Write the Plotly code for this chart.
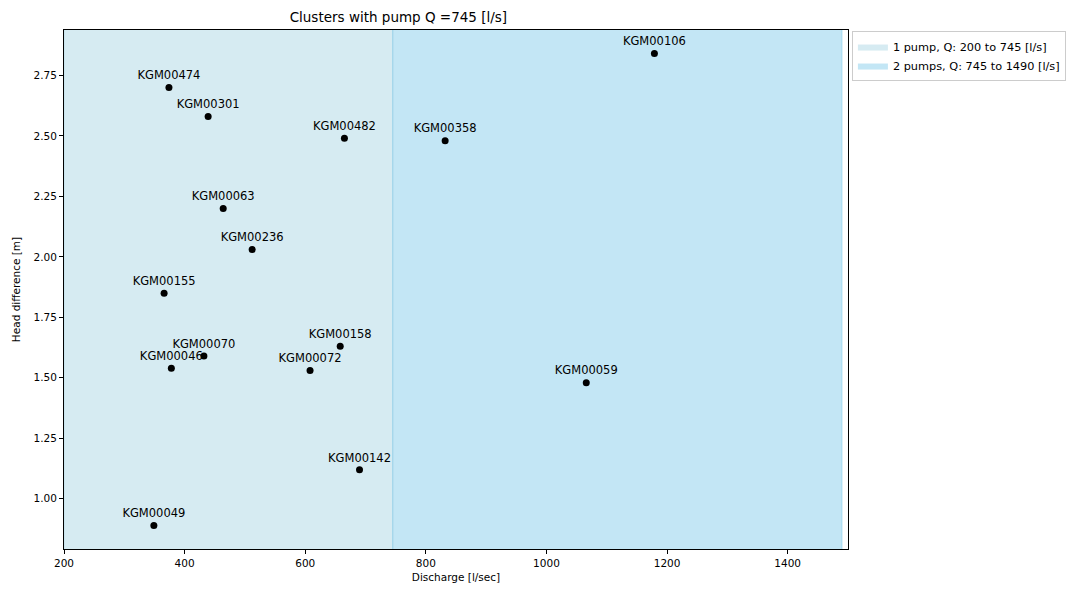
import plotly.graph_objects as go

# Station discharge / head difference per cluster
stations = ["KGM00474", "KGM00301", "KGM00482", "KGM00358", "KGM00106",
            "KGM00063", "KGM00236", "KGM00155", "KGM00158", "KGM00070",
            "KGM00046", "KGM00072", "KGM00059", "KGM00142", "KGM00049"]
discharge = [374, 439, 665, 832, 1179, 464, 512, 366, 658, 432, 378, 608, 1066, 690, 349]
head_diff = [2.70, 2.58, 2.49, 2.48, 2.84, 2.20, 2.03, 1.85, 1.63, 1.59, 1.54, 1.53, 1.48, 1.12, 0.89]

pump_q = 745
q_min = 200
band_edges = [q_min, pump_q, 2 * pump_q]
band_names = ["1 pump, Q: 200 to 745 [l/s]", "2 pumps, Q: 745 to 1490 [l/s]"]
band_fill = ["rgba(173,216,230,0.5)", "rgba(135,206,235,0.5)"]

y_lo, y_hi = 0.7925, 2.9375
font = "DejaVu Sans"

fig = go.Figure()

# Shaded pump-capacity bands drawn as closed polygons so they appear in the legend
for i, name in enumerate(band_names):
    x0, x1 = band_edges[i], band_edges[i + 1]
    fig.add_trace(go.Scatter(
        x=[x0, x1, x1, x0, x0],
        y=[y_lo, y_lo, y_hi, y_hi, y_lo],
        fill="toself", fillcolor=band_fill[i],
        line=dict(width=0),
        mode="lines", name=name, hoverinfo="skip",
    ))
    # band edge outlines
    for xe in (x0, x1):
        fig.add_shape(type="line", xref="x", yref="y", x0=xe, x1=xe, y0=y_lo, y1=y_hi,
                      line=dict(color=band_fill[i], width=1.2), layer="above")

fig.add_trace(go.Scatter(
    x=discharge, y=head_diff, mode="markers+text",
    text=stations, textposition="top center",
    textfont=dict(family=font, size=11.5, color="black"),
    marker=dict(color="black", size=7),
    showlegend=False,
))

axis_common = dict(
    showgrid=False, zeroline=False, showline=True, linecolor="black", linewidth=1,
    mirror=True, ticks="outside", ticklen=4, tickcolor="black",
    tickfont=dict(family=font, size=10.5, color="black"),
)

fig.update_layout(
    width=1071, height=591,
    margin=dict(l=64, r=223, t=30, b=42, autoexpand=False),
    paper_bgcolor="white", plot_bgcolor="white",
    title=dict(text="Clusters with pump Q =745 [l/s]", x=0.4265, xanchor="center",
               xref="paper", y=0.971, yanchor="middle",
               font=dict(family=font, size=13.5, color="black")),
    xaxis=dict(range=[200, 1500], tickvals=[200, 400, 600, 800, 1000, 1200, 1400],
               title=dict(text="Discharge [l/sec]", font=dict(family=font, size=10.5, color="black"),
                          standoff=6),
               **axis_common),
    yaxis=dict(range=[y_lo, y_hi], tickvals=[1.00, 1.25, 1.50, 1.75, 2.00, 2.25, 2.50, 2.75],
               tickformat=".2f",
               title=dict(text="Head difference [m]", font=dict(family=font, size=10.5, color="black"),
                          standoff=10),
               **axis_common),
    legend=dict(x=1.005, y=0.998, xanchor="left", yanchor="top",
                bgcolor="white", bordercolor="#cccccc", borderwidth=1,
                font=dict(family=font, size=11.3, color="black"),
                tracegroupgap=0, itemsizing="constant", itemwidth=30),
)

fig.write_html("out.html")
